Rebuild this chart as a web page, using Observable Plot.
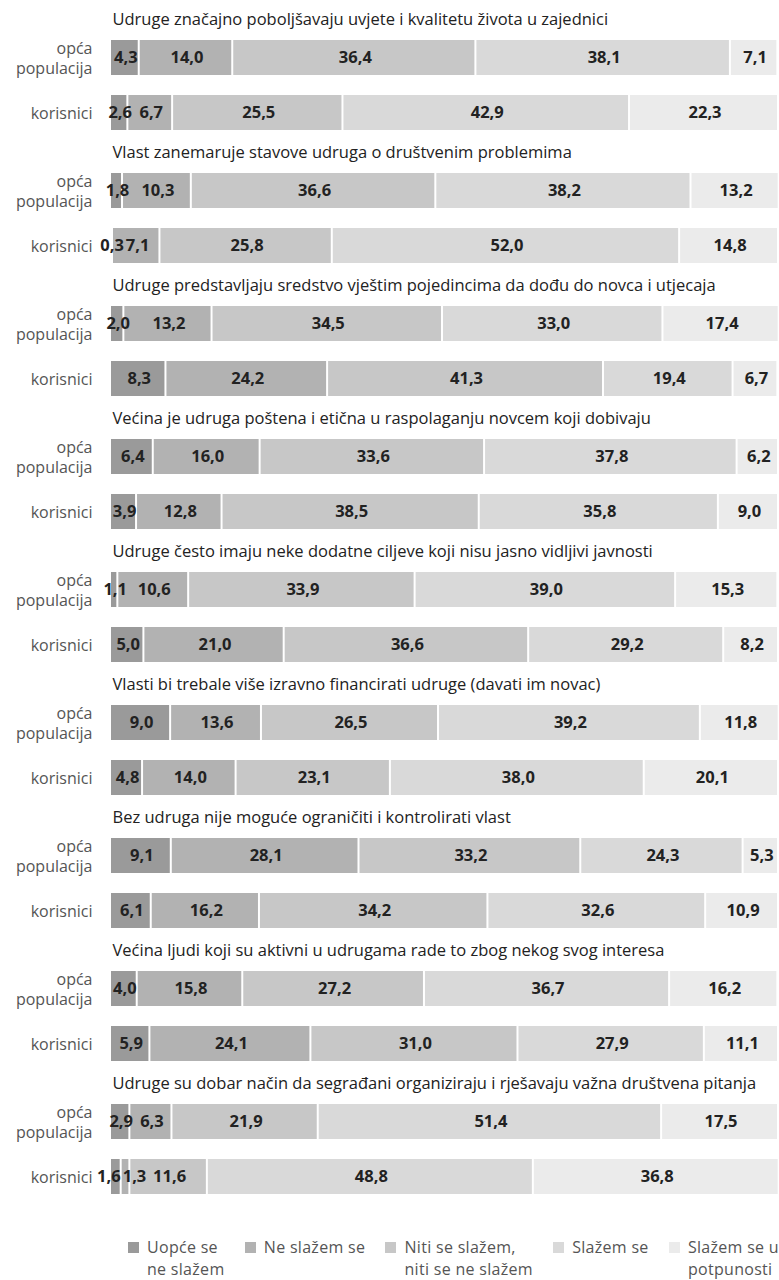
<!DOCTYPE html>
<html>
<head>
<meta charset="utf-8">
<script src="https://cdn.jsdelivr.net/npm/d3@7"></script>
<script src="https://cdn.jsdelivr.net/npm/@observablehq/plot@0.6"></script>
<style>
  body { margin: 0; background: #fff; font-family: "Open Sans", "Noto Sans", sans-serif; }
  #legend { display: flex; justify-content: space-between; box-sizing: border-box; width: 779px; padding: 16px 0 0 128px; color: #555; font-size: 16px; line-height: 22px; letter-spacing: 0.3px; }
  #legend .item { display: flex; align-items: flex-start; }
  #legend .sw { width: 11px; height: 11px; margin: 6px 8px 0 0; flex: none; }
  #legend .lbl { white-space: nowrap; }
</style>
</head>
<body>
<div id="chart"></div>
<div id="legend"></div>
<script>
const statements = [
  "Udruge značajno poboljšavaju uvjete i kvalitetu života u zajednici",
  "Vlast zanemaruje stavove udruga o društvenim problemima",
  "Udruge predstavljaju sredstvo vještim pojedincima da dođu do novca i utjecaja",
  "Većina je udruga poštena i etična u raspolaganju novcem koji dobivaju",
  "Udruge često imaju neke dodatne ciljeve koji nisu jasno vidljivi javnosti",
  "Vlasti bi trebale više izravno financirati udruge (davati im novac)",
  "Bez udruga nije moguće ograničiti i kontrolirati vlast",
  "Većina ljudi koji su aktivni u udrugama rade to zbog nekog svog interesa",
  "Udruge su dobar način da segrađani organiziraju i rješavaju važna društvena pitanja"
];
const groups = ["opća populacija", "korisnici"];
const groupLabels = ["opća\npopulacija", "korisnici"];
const categories = ["Uopće se ne slažem", "Ne slažem se", "Niti se slažem, niti se ne slažem", "Slažem se", "Slažem se u potpunosti"];
const legendLabels = ["Uopće se\nne slažem", "Ne slažem se", "Niti se slažem,\nniti se ne slažem", "Slažem se", "Slažem se u\npotpunosti"];
const colors = ["#9a9a9a", "#b2b2b2", "#c7c7c7", "#d9d9d9", "#ebebeb"];

const opcaValues = [
  [4.3, 14.0, 36.4, 38.1, 7.1],
  [1.8, 10.3, 36.6, 38.2, 13.2],
  [2.0, 13.2, 34.5, 33.0, 17.4],
  [6.4, 16.0, 33.6, 37.8, 6.2],
  [1.1, 10.6, 33.9, 39.0, 15.3],
  [9.0, 13.6, 26.5, 39.2, 11.8],
  [9.1, 28.1, 33.2, 24.3, 5.3],
  [4.0, 15.8, 27.2, 36.7, 16.2],
  [2.9, 6.3, 21.9, 51.4, 17.5]
];
const korisniciValues = [
  [2.6, 6.7, 25.5, 42.9, 22.3],
  [0.3, 7.1, 25.8, 52.0, 14.8],
  [8.3, 24.2, 41.3, 19.4, 6.7],
  [3.9, 12.8, 38.5, 35.8, 9.0],
  [5.0, 21.0, 36.6, 29.2, 8.2],
  [4.8, 14.0, 23.1, 38.0, 20.1],
  [6.1, 16.2, 34.2, 32.6, 10.9],
  [5.9, 24.1, 31.0, 27.9, 11.1],
  [1.6, 1.3, 11.6, 48.8, 36.8]
];

const width = 779, marginLeft = 111, marginRight = 0;
const pxPerUnit = (width - marginLeft - marginRight) / 100;
const valueFontSize = 16.5;
const fmt = v => v.toFixed(1).replace(".", ",");
const ctx = document.createElement("canvas").getContext("2d");
ctx.font = `bold ${valueFontSize}px 'Open Sans'`;
const labelWidth = s => (ctx.measureText(s).width + 2) / pxPerUnit;

const data = [];
const labels = [];
statements.forEach((s, i) => {
  [opcaValues[i], korisniciValues[i]].forEach((vals, g) => {
    let acc = 0;
    const row = vals.map((v, c) => {
      const x1 = acc; acc += v;
      data.push({stmt: i, group: groups[g], cat: categories[c], value: v});
      const t = fmt(v);
      return {stmt: i, group: groups[g], text: t, w: labelWidth(t), pos: (x1 + acc) / 2};
    });
    // resolve overlapping labels by spreading neighbours apart
    for (let pass = 0; pass < 20; pass++) {
      for (let k = 0; k < row.length - 1; k++) {
        const overlap = (row[k].pos + row[k].w / 2) - (row[k + 1].pos - row[k + 1].w / 2);
        if (overlap > 0) { row[k].pos -= overlap / 2; row[k + 1].pos += overlap / 2; }
      }
    }
    labels.push(...row);
  });
});
const rowLabels = [];
statements.forEach((s, i) => groups.forEach((g, j) => rowLabels.push({stmt: i, group: g, label: groupLabels[j]})));
const titles = statements.map((s, i) => ({stmt: i, text: s}));

const chart = Plot.plot({
  width,
  height: 1220,
  marginLeft,
  marginRight,
  marginTop: 17,
  marginBottom: 2,
  style: {fontFamily: "'Open Sans', 'Noto Sans', sans-serif", background: "white"},
  x: {domain: [0, 100], axis: null},
  y: {domain: groups, axis: null, paddingInner: 0.357, paddingOuter: 0.37, align: 0.5},
  fy: {domain: d3.range(statements.length), axis: null, padding: 0},
  color: {domain: categories, range: colors},
  marks: [
    Plot.barX(data, Plot.stackX({x: "value", y: "group", fy: "stmt", fill: "cat", insetRight: 2})),
    Plot.text(labels, {x: "pos", y: "group", fy: "stmt", text: "text", fontWeight: "bold", fontSize: valueFontSize, fill: "#222"}),
    Plot.text(titles, {fy: "stmt", text: "text", frameAnchor: "top-left", lineAnchor: "middle", textAnchor: "start", dx: 1, fontSize: 16.5, fill: "#222"}),
    Plot.text(rowLabels, {fy: "stmt", y: "group", text: "label", frameAnchor: "left", textAnchor: "end", dx: -19, lineHeight: 1.25, fontSize: 16, fill: "#555"})
  ]
});
document.getElementById("chart").appendChild(chart);

const legend = document.getElementById("legend");
categories.forEach((c, i) => {
  const item = document.createElement("div");
  item.className = "item";
  const sw = document.createElement("div");
  sw.className = "sw";
  sw.style.background = colors[i];
  const lbl = document.createElement("div");
  lbl.className = "lbl";
  lbl.innerHTML = legendLabels[i].split("\n").join("<br>");
  item.appendChild(sw);
  item.appendChild(lbl);
  legend.appendChild(item);
});
</script>
</body>
</html>
